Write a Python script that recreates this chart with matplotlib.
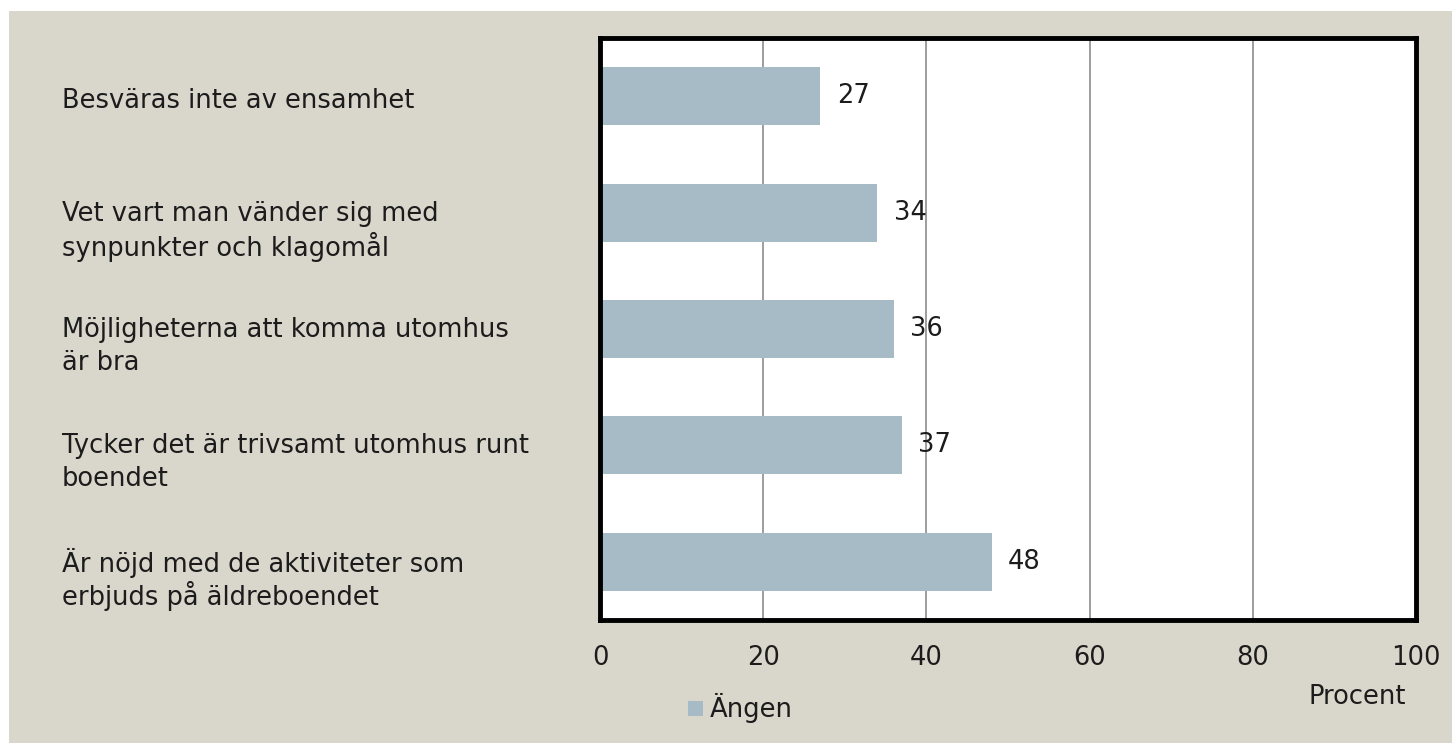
import matplotlib
matplotlib.use("Agg")
import matplotlib.pyplot as plt
from matplotlib.patches import Rectangle

# Survey results, top to bottom
categories = [
    "Besväras inte av ensamhet",
    "Vet vart man vänder sig med\nsynpunkter och klagomål",
    "Möjligheterna att komma utomhus\när bra",
    "Tycker det är trivsamt utomhus runt\nboendet",
    "Är nöjd med de aktiviteter som\nerbjuds på äldreboendet",
]
values = [27, 34, 36, 37, 48]
xticks = [0, 20, 40, 60, 80, 100]
series_name = "Ängen"

BG = "#d9d7cc"
BAR = "#a7bbc6"
INK = "#1c1c1c"
FONT = "DejaVu Sans"
FS = 18.5
LINE_PX = 33  # distance between lines of a wrapped category label

W, H = 1452, 743
fig = plt.figure(figsize=(W / 100, H / 100), dpi=100, facecolor="white")

# beige panel leaving a thin white strip on top and left
fig.patches.append(Rectangle((9 / W, 0), 1 - 9 / W, 1 - 11 / H,
                             transform=fig.transFigure, facecolor=BG,
                             edgecolor="none", zorder=-10))

ax = fig.add_axes([600 / W, 1 - 620 / H, (1416 - 600) / W, (620 - 38) / H])
ax.set_facecolor("white")

ypos = list(range(len(categories)))
ax.barh(ypos, values, height=0.5, color=BAR, zorder=2)
ax.set_ylim(len(categories) - 0.5, -0.5)
ax.set_xlim(0, 100)

for y, v in zip(ypos, values):
    ax.text(v + 2.0, y, str(v), va="center", ha="left", fontsize=FS,
            family=FONT, color=INK, zorder=3)

ax.set_xticks(xticks)
ax.set_xticklabels([str(t) for t in xticks], fontsize=FS, family=FONT,
                   color=INK)
ax.tick_params(axis="x", length=0, pad=18)
ax.set_yticks([])
ax.grid(axis="x", color="#8c8c8c", linewidth=1.2, zorder=1)
for s in ax.spines.values():
    s.set_linewidth(3.5)
    s.set_color("black")

# category labels: first line level with the bar, the rest below it
for y, c in zip(ypos, categories):
    yy = ax.transData.transform((0, y))[1]
    lines = c.split("\n")
    off = 5 if len(lines) == 1 else 1
    for i, line in enumerate(lines):
        fig.text(62 / W, (yy - off - i * LINE_PX) / H, line, ha="left",
                 va="center", fontsize=FS, family=FONT, color=INK)

fig.text(1357 / W, 1 - 697 / H, "Procent", ha="center", va="center",
         fontsize=FS, family=FONT, color=INK)

# legend
fig.patches.append(Rectangle((688 / W, 1 - 716 / H), 15 / W, 15 / H,
                             transform=fig.transFigure, facecolor=BAR,
                             edgecolor="none"))
fig.text(710 / W, 1 - 708 / H, series_name, ha="left", va="center",
         fontsize=FS, family=FONT, color=INK)

fig.savefig("out.png", dpi=100, facecolor="white")
